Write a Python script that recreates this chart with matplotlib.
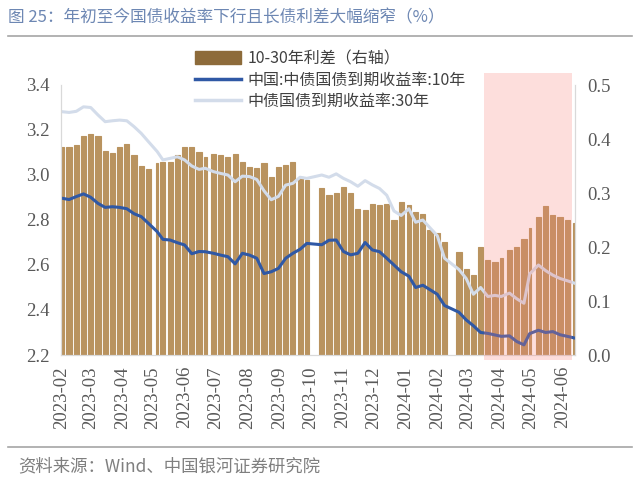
import matplotlib
matplotlib.use("Agg")
import matplotlib.pyplot as plt
import matplotlib.dates as mdates
import matplotlib.transforms as mtransforms
from matplotlib.font_manager import FontProperties
from matplotlib.lines import Line2D
from matplotlib.patches import Patch, Rectangle
import numpy as np
import pandas as pd

nan = np.nan

# weekly data, one value per week (week starting Monday)
week_start = pd.date_range("2023-01-30", periods=72, freq="W-MON")

# 10-30 spread (right axis)
spread = [0.386, 0.386, 0.388, 0.405, 0.410, 0.405, 0.378, 0.375, 0.385, 0.390,
          0.370, 0.350, 0.345, 0.355, 0.358, 0.358, 0.370, 0.386, 0.386, 0.376,
          0.367, 0.373, 0.370, 0.367, 0.373, 0.358, 0.349, 0.346, 0.355, 0.330,
          0.349, 0.352, 0.358, 0.330, 0.324, nan, 0.310, 0.296, 0.300, 0.312,
          0.300, 0.270, 0.268, 0.280, 0.278, 0.280, 0.250, 0.283, 0.277, 0.265,
          0.262, 0.231, 0.226, 0.210, nan, 0.190, 0.160, 0.148, 0.200, 0.176,
          0.172, 0.180, 0.195, 0.200, 0.215, 0.235, 0.255, 0.276, 0.260, 0.255,
          0.250, 0.245]

# 10Y yield
y10 = [2.896, 2.891, 2.904, 2.916, 2.901, 2.874, 2.856, 2.859, 2.856, 2.850,
       2.828, 2.815, 2.785, 2.748, 2.714, 2.711, 2.699, 2.689, 2.650, 2.660,
       2.659, 2.652, 2.644, 2.637, 2.605, 2.652, 2.644, 2.630, 2.562, 2.570,
       2.585, 2.630, 2.652, 2.670, 2.696, nan, 2.690, 2.710, 2.711, 2.660,
       2.645, 2.652, 2.700, 2.667, 2.659, 2.630, 2.600, 2.570, 2.550, 2.500,
       2.510, 2.490, 2.470, 2.420, nan, 2.390, 2.356, 2.330, 2.300, 2.296,
       2.289, 2.283, 2.285, 2.260, 2.245, 2.295, 2.310, 2.300, 2.304, 2.290,
       2.283, 2.276]

# 30Y yield
y30 = [3.281, 3.278, 3.283, 3.303, 3.300, 3.267, 3.237, 3.241, 3.244, 3.241,
       3.215, 3.185, 3.148, 3.104, 3.067, 3.074, 3.081, 3.067, 3.040, 3.025,
       3.030, 3.015, 3.007, 3.000, 2.970, 2.995, 2.993, 2.980, 2.930, 2.890,
       2.905, 2.955, 2.963, 2.990, 2.985, nan, 3.000, 2.990, 3.005, 2.985,
       2.970, 2.950, 2.975, 2.956, 2.940, 2.910, 2.840, 2.820, 2.850, 2.790,
       2.800, 2.765, 2.730, 2.630, nan, 2.580, 2.540, 2.470, 2.500, 2.460,
       2.465, 2.460, 2.475, 2.450, 2.430, 2.560, 2.600, 2.575, 2.555, 2.540,
       2.530, 2.520]

holidays = pd.to_datetime([
    "2023-04-05", "2023-05-01", "2023-05-02", "2023-05-03", "2023-06-22",
    "2023-06-23", "2023-09-29", "2023-10-02", "2023-10-03", "2023-10-04",
    "2023-10-05", "2023-10-06", "2024-01-01", "2024-02-12", "2024-02-13",
    "2024-02-14", "2024-02-15", "2024-02-16", "2024-04-04", "2024-04-05",
    "2024-05-01", "2024-05-02", "2024-05-03", "2024-06-10",
])

month_ticks = pd.date_range("2023-02-01", "2024-06-01", freq="MS")
highlight = ("2024-03-17", "2024-06-10")

title = "图 25：年初至今国债收益率下行且长债利差大幅缩窄（%）"
source = "资料来源：Wind、中国银河证券研究院"
labels = ["10-30年利差（右轴）", "中国:中债国债到期收益率:10年", "中债国债到期收益率:30年"]

cjk = ["Noto Sans CJK SC", "DejaVu Sans"]
tick_font = FontProperties(family="Liberation Serif", size=13.5)
tick_color = "#595959"
bar_color = "#B9935F"
blue = "#2F58A5"
light = "#D3DCEA"

# trading-day span of each week -> one bar per week
trade_days = pd.bdate_range("2023-02-01", "2024-06-12")
trade_days = trade_days[~trade_days.isin(holidays)]
lefts, widths = [], []
for ws in week_start:
    d = trade_days[(trade_days >= ws) & (trade_days < ws + pd.Timedelta(days=7))]
    if len(d) == 0:
        lefts.append(nan)
        widths.append(0)
    else:
        lefts.append(mdates.date2num(d[0]))
        widths.append((d[-1] - d[0]).days + 1)
lefts = np.array(lefts)
widths = np.array(widths, dtype=float)
mids = lefts + widths / 2

fig = plt.figure(figsize=(6.4, 4.87), dpi=100)
ax1 = fig.add_axes([61 / 640, 132 / 487, 514 / 640, 270 / 487])
ax2 = ax1.twinx()
ax1.set_zorder(2)
ax1.patch.set_visible(False)

ok = ~np.isnan(lefts)
ax2.bar(lefts[ok], np.array(spread)[ok], width=widths[ok], align="edge",
        color=bar_color, edgecolor=bar_color, linewidth=0.8)

y10a = np.array(y10)
y30a = np.array(y30)
m10 = ~np.isnan(y10a)
ax1.plot(mids[m10], y30a[m10], color=light, lw=2.2, solid_joinstyle="round")
ax1.plot(mids[m10], y10a[m10], color=blue, lw=2.2, solid_joinstyle="round")

x0 = mdates.date2num(pd.Timestamp("2023-02-01")) - 0.3
x1 = mdates.date2num(pd.Timestamp("2024-06-13"))
ax1.set_xlim(x0, x1)
ax1.set_ylim(2.2, 3.4)
ax2.set_ylim(0, 0.5)

for ax in (ax1, ax2):
    ax.tick_params(length=0, labelcolor=tick_color)
    ax.spines["top"].set_visible(False)
    for s in ("left", "right", "bottom"):
        ax.spines[s].set_color("#D9D9D9")
ax1.tick_params(axis="x", pad=8)
ax1.tick_params(axis="y", pad=8)
ax2.tick_params(axis="y", pad=9)

left_ticks = np.arange(2.2, 3.41, 0.2)
right_ticks = np.arange(0, 0.51, 0.1)
ax1.set_yticks(left_ticks)
ax1.set_yticklabels([f"{v:.1f}" for v in left_ticks], fontproperties=tick_font)
ax2.set_yticks(right_ticks)
ax2.set_yticklabels([f"{v:.1f}" for v in right_ticks], fontproperties=tick_font)
ax1.set_xticks(mdates.date2num(month_ticks))
ax1.set_xticklabels([d.strftime("%Y-%m") for d in month_ticks], rotation=90,
                    fontproperties=tick_font)

# highlighted period
trans = mtransforms.blended_transform_factory(ax1.transData, ax1.transAxes)
hx0 = mdates.date2num(pd.Timestamp(highlight[0]))
hx1 = mdates.date2num(pd.Timestamp(highlight[1]))
ax1.add_patch(Rectangle((hx0, -0.02), hx1 - hx0, 1.064, transform=trans,
                        facecolor="#FA8278", alpha=0.26, lw=0, zorder=10,
                        clip_on=False))

handles = [Patch(color="#8D6B3A"),
           Line2D([], [], color=blue, lw=2.5),
           Line2D([], [], color=light, lw=2.5)]
fig.legend(handles, labels, loc="upper left", bbox_to_anchor=(195 / 640, 1 - 50 / 487),
           frameon=False, prop={"family": cjk, "size": 11.5}, labelcolor="#404040",
           handlelength=2.9, handleheight=0.8, labelspacing=0.28, handletextpad=0.4,
           borderpad=0, borderaxespad=0)

fig.text(8 / 640, 1 - 18 / 487, title, fontsize=12, color="#6D87B3",
         family=cjk, va="center", ha="left")
fig.add_artist(Line2D([8 / 640, 632 / 640], [1 - 36 / 487] * 2, color="#A6A6A6", lw=1.2))
fig.add_artist(Line2D([8 / 640, 632 / 640], [1 - 447 / 487] * 2, color="#A6A6A6", lw=1.2))
fig.text(18 / 640, 1 - 466 / 487, source, fontsize=12.5, color="#7F7F7F",
         family=cjk, va="center", ha="left")

fig.savefig("out.png", dpi=100)
